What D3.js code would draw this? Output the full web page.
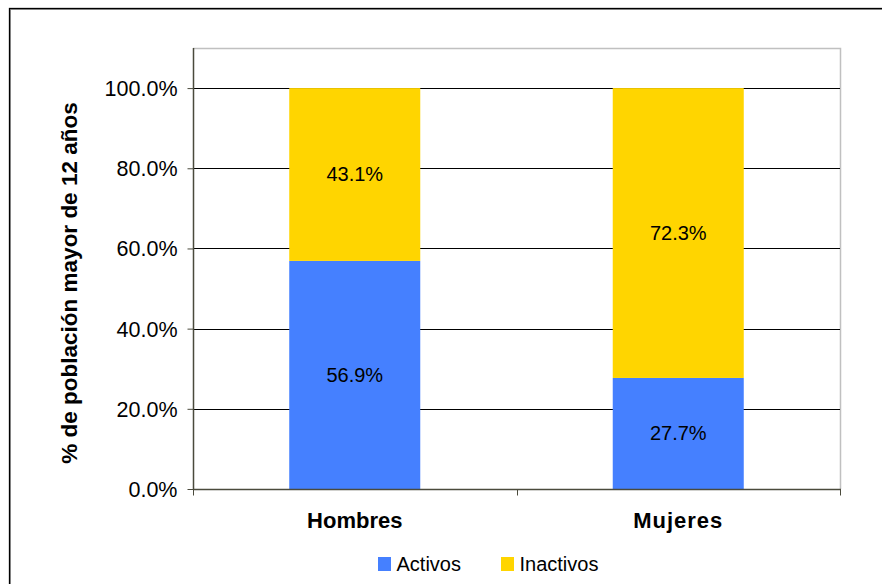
<!DOCTYPE html>
<html><head><meta charset="utf-8">
<script src="https://cdn.jsdelivr.net/npm/d3@7"></script>
<style>body{margin:0;background:#fff}svg{display:block}</style>
</head><body><svg id="c" width="882" height="584"></svg>
<script>
const categories = ["Hombres", "Mujeres"];
const seriesNames = ["Activos", "Inactivos"];
const activos = [0.569, 0.277];
const inactivos = [0.431, 0.723];
const yTicks = [0, 0.2, 0.4, 0.6, 0.8, 1.0];
const colors = ["#4580FF", "#FFD500"];

const svg = d3.select("#c");
const font = "Arial, 'Liberation Sans', sans-serif";

// outer border
svg.append("rect").attr("x", 10.5).attr("y", 9.5).attr("width", 900).attr("height", 600)
  .attr("fill", "none").attr("stroke", "#999").attr("stroke-width", 1);
svg.append("rect").attr("x", 9.5).attr("y", 8.5).attr("width", 900).attr("height", 600)
  .attr("fill", "none").attr("stroke", "#000").attr("stroke-width", 1.3);

const L = 193, R = 840, T = 48, B = 489;
const x = d3.scaleBand().domain(categories).range([L, R]).paddingInner(0.595).paddingOuter(0.2975);
const y = d3.scaleLinear().domain([0, 1.1]).range([B, T]);

// plot area border (top/right light grey)
svg.append("path").attr("d", `M${L},${T+0.5}H${R+0.5}V${B}`).attr("fill", "none")
  .attr("stroke", "#c0c0c0").attr("stroke-width", 1.5);

// gridlines
svg.append("g").selectAll("line").data(yTicks.filter(d => d > 0)).join("line")
  .attr("x1", L).attr("x2", R).attr("y1", d => Math.round(y(d)) + 0.5).attr("y2", d => Math.round(y(d)) + 0.5)
  .attr("stroke", "#000").attr("stroke-width", 1);

// stacked bars
const stackData = categories.map((c, i) => ({cat: c, Activos: activos[i], Inactivos: inactivos[i]}));
const stack = d3.stack().keys(seriesNames)(stackData);
const g = svg.append("g");
stack.forEach((s, si) => {
  g.selectAll(null).data(s).join("rect")
    .attr("x", d => x(d.data.cat)).attr("width", x.bandwidth())
    .attr("y", d => y(d[1])).attr("height", d => y(d[0]) - y(d[1]))
    .attr("fill", colors[si]);
  g.selectAll(null).data(s).join("text")
    .attr("x", d => x(d.data.cat) + x.bandwidth() / 2)
    .attr("y", d => (y(d[0]) + y(d[1])) / 2 + 7)
    .attr("text-anchor", "middle").attr("font-family", font).attr("font-size", 20)
    .attr("fill", "#000")
    .text(d => d3.format(".1%")(d[1] - d[0]));
});

// y axis
const yAxis = d3.axisLeft(y).tickValues(yTicks).tickFormat(d3.format(".1%")).tickSizeOuter(0).tickSize(6).tickPadding(10);
const ya = svg.append("g").attr("transform", `translate(${L + 0.5},0)`).call(yAxis);
ya.select(".domain").attr("stroke", "#4a4a3c").attr("stroke-width", 1.5).attr("d", `M0,${T}V${B}`);
ya.selectAll(".tick line").attr("stroke", "#4a4a3c");
ya.selectAll(".tick text").attr("font-family", font).attr("font-size", 21.5).attr("fill", "#000").attr("dy", "0.35em");

// x axis
const xa = svg.append("g").attr("transform", `translate(0,${B + 0.5})`);
xa.append("line").attr("x1", L).attr("x2", R + 1).attr("stroke", "#4a4a3c").attr("stroke-width", 1.5);
const xTickPos = [L, (L + R) / 2, R];
xa.selectAll(null).data(xTickPos).join("line")
  .attr("x1", d => Math.round(d) + 0.5).attr("x2", d => Math.round(d) + 0.5).attr("y1", 0).attr("y2", 6)
  .attr("stroke", "#4a4a3c");
xa.selectAll(null).data(categories).join("text")
  .attr("x", d => x(d) + x.bandwidth() / 2).attr("y", 38.5)
  .attr("text-anchor", "middle").attr("font-family", font).attr("font-size", 22).attr("font-weight", "bold")
  .attr("letter-spacing", (d, i) => i === 1 ? "1px" : "0px")
  .text(d => d);

// y title
svg.append("text").attr("transform", `translate(77,283) rotate(-90)`)
  .attr("text-anchor", "middle").attr("font-family", font).attr("font-size", 22.5).attr("font-weight", "bold")
  .text("% de población mayor de 12 años");

// legend
const legX = [378, 501];
const lg = svg.append("g");
seriesNames.forEach((n, i) => {
  lg.append("rect").attr("x", legX[i]).attr("y", 557).attr("width", 13).attr("height", 14).attr("fill", colors[i]);
  lg.append("text").attr("x", legX[i] + 18.5).attr("y", 571).attr("font-family", font).attr("font-size", 20)
    .attr("fill", "#000").text(n);
});
</script></body></html>
